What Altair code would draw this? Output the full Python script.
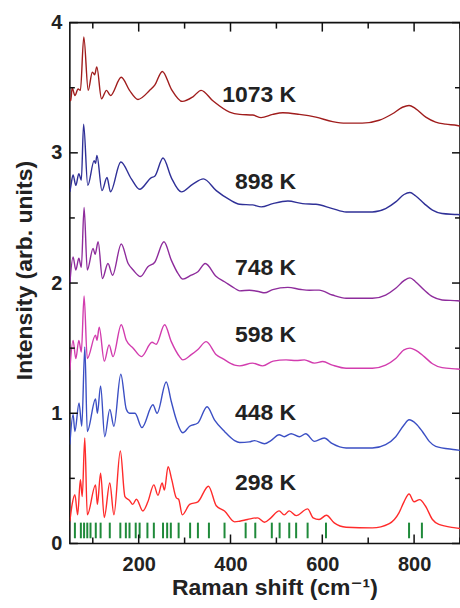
import altair as alt
import pandas as pd

temps = ["298 K", "448 K", "598 K", "748 K", "898 K", "1073 K"]
colors = ["#ff2b2b", "#3b4fc4", "#d23cae", "#8e2c9c", "#2f3097", "#a01d1d"]

x_298 = [50, 55, 61, 67, 73, 77, 82.5, 88, 106, 110, 117, 125, 137, 146, 160, 170, 180, 187, 195, 209,
         220, 233, 242, 251, 256, 264, 272, 282, 287, 295, 311, 329, 352, 369, 387, 409, 420, 437, 459, 474,
         488, 506, 517, 528, 543, 568, 580, 593, 609, 626, 652, 709, 746, 767, 778, 789, 800, 812, 825, 840,
         854, 890, 900]
y_298 = [0.17, 0.30, 0.375, 0.22, 0.49, 0.36, 0.81, 0.22, 0.45, 0.30, 0.54, 0.20, 0.465, 0.22, 0.71, 0.36, 0.33, 0.30, 0.34, 0.25,
         0.32, 0.45, 0.37, 0.465, 0.41, 0.59, 0.49, 0.35, 0.34, 0.22, 0.30, 0.32, 0.44, 0.29, 0.25, 0.166, 0.171, 0.184, 0.197, 0.163,
         0.197, 0.25, 0.22, 0.25, 0.214, 0.266, 0.197, 0.184, 0.217, 0.158, 0.125, 0.12, 0.153, 0.235, 0.32, 0.38, 0.32, 0.337, 0.286, 0.184,
         0.146, 0.12, 0.115]

x_448 = [50, 57, 61, 70, 76, 82.6, 88, 106, 110, 117, 126, 137, 146, 161, 173, 180, 192, 207, 231, 240,
         260, 271, 282, 296, 311, 329, 349, 365, 387, 409, 420, 441, 452, 474, 488, 506, 517, 532, 550, 564,
         583, 604, 622, 652, 709, 738, 760, 778, 789, 804, 818, 833, 847, 890, 900]
y_448 = [0.76, 0.99, 0.86, 1.08, 0.90, 1.51, 0.86, 1.11, 1.0, 1.21, 0.82, 1.03, 0.90, 1.30, 1.03, 1.00, 1.00, 0.89, 1.065, 1.0,
         1.24, 1.09, 0.95, 0.85, 0.90, 0.925, 1.05, 0.95, 0.86, 0.79, 0.776, 0.78, 0.79, 0.766, 0.79, 0.835, 0.82, 0.843, 0.82, 0.843,
         0.784, 0.81, 0.766, 0.733, 0.733, 0.759, 0.82, 0.91, 0.95, 0.92, 0.86, 0.784, 0.746, 0.72, 0.715]

x_598 = [50, 57, 63, 69.6, 75, 81, 88, 106, 109, 114, 125, 135.5, 144, 162, 173, 188, 206, 229, 238, 256.5,
         271, 289, 296, 314.5, 329, 347, 369, 383, 409, 420, 448, 470, 493, 521, 543, 561, 583, 601, 622, 652,
         709, 738, 760, 778, 791, 803, 822, 840, 861, 894, 900]
y_598 = [1.33, 1.56, 1.42, 1.56, 1.47, 1.90, 1.42, 1.60, 1.56, 1.66, 1.40, 1.525, 1.435, 1.68, 1.56, 1.50, 1.435, 1.545, 1.53, 1.68,
         1.55, 1.435, 1.41, 1.45, 1.49, 1.55, 1.45, 1.42, 1.37, 1.364, 1.385, 1.364, 1.40, 1.41, 1.405, 1.41, 1.385, 1.397, 1.37, 1.346,
         1.346, 1.37, 1.42, 1.487, 1.50, 1.485, 1.435, 1.38, 1.35, 1.34, 1.338]

x_748 = [50, 57, 63, 69.6, 75, 81, 88, 100.7, 105, 111.6, 121, 133, 143, 162, 177, 188, 204, 220, 235, 255,
         271, 285.5, 296, 314.5, 329, 345, 369, 387, 409, 420, 441, 463, 474, 492, 525, 554, 572, 593, 622, 652,
         709, 738, 760, 778, 791, 803, 822, 840, 861, 894, 900]
y_748 = [2.0, 2.20, 2.10, 2.19, 2.12, 2.58, 2.10, 2.266, 2.22, 2.317, 2.035, 2.15, 2.06, 2.30, 2.15, 2.10, 2.05, 2.125, 2.16, 2.317,
         2.176, 2.074, 2.03, 2.06, 2.087, 2.15, 2.05, 2.01, 1.96, 1.94, 1.945, 1.933, 1.925, 1.95, 1.967, 1.95, 1.945, 1.946, 1.908, 1.883,
         1.883, 1.908, 1.96, 2.018, 2.04, 2.01, 1.946, 1.895, 1.87, 1.864, 1.862]

x_898 = [50, 52, 57, 63, 69.6, 75, 80, 89, 103, 106, 109, 120, 131, 138.5, 161, 184, 202, 227.6, 235, 253,
         271, 293, 318, 341, 369, 398, 420, 448, 467, 492, 525, 557, 586, 622, 652, 709, 738, 760, 778, 791,
         803, 822, 840, 861, 894, 900]
y_898 = [2.70, 2.74, 2.83, 2.75, 2.84, 2.79, 3.22, 2.75, 2.94, 2.92, 2.98, 2.71, 2.81, 2.70, 2.93, 2.80, 2.72, 2.81, 2.82, 2.96,
         2.81, 2.70, 2.76, 2.80, 2.71, 2.64, 2.605, 2.60, 2.585, 2.61, 2.63, 2.61, 2.605, 2.572, 2.546, 2.546, 2.572, 2.623, 2.68, 2.695,
         2.67, 2.61, 2.56, 2.534, 2.526, 2.524]

x_1073 = [50, 52, 55, 61, 68, 73, 80.4, 90, 99, 104, 108.7, 119, 129.8, 138.5, 162, 180, 198.5, 224, 235, 251.5,
          271, 295, 318, 336, 361.5, 398, 420, 448.5, 466.6, 492, 514, 550, 586, 622.5, 651.5, 687, 724, 753, 774.6, 789,
          803, 825.5, 847, 869, 894, 900]
y_1073 = [3.42, 3.40, 3.50, 3.44, 3.49, 3.48, 3.89, 3.48, 3.62, 3.60, 3.66, 3.415, 3.48, 3.44, 3.58, 3.48, 3.41, 3.48, 3.52, 3.625,
          3.49, 3.395, 3.43, 3.48, 3.40, 3.313, 3.295, 3.29, 3.27, 3.295, 3.308, 3.295, 3.274, 3.24, 3.228, 3.228, 3.25, 3.30, 3.35, 3.364,
          3.34, 3.274, 3.236, 3.22, 3.21, 3.205]

# reference peak positions (green bars)
bar_positions = [61, 74, 81, 88, 95, 106.5, 117, 137, 160, 172, 180, 193.5, 202, 219, 233, 253, 262, 270, 287,
                 312, 329, 353, 387, 433, 454, 490, 507, 528, 543, 568, 608, 789, 817]
bar_low = 0.04
bar_high = 0.16

label_text = temps
label_x = [543, 543, 543, 543, 543, 543]
label_y = [0.414, 0.95, 1.55, 2.061, 2.725, 3.39]

x_ticks_major = [200, 400, 600, 800]
x_ticks_minor = [100, 300, 500, 700, 900]
y_ticks_major = [0, 1, 2, 3, 4]
y_ticks_minor = [0.5, 1.5, 2.5, 3.5]

W, H = 391, 522
FONT = "Liberation Sans, Arial, DejaVu Sans"

xs_all = [x_298, x_448, x_598, x_748, x_898, x_1073]
ys_all = [y_298, y_448, y_598, y_748, y_898, y_1073]
rows = []
for t, xs, ys in zip(temps, xs_all, ys_all):
    assert len(xs) == len(ys), t
    for a, b in zip(xs, ys):
        rows.append({"shift": a, "intensity": b, "T": t})
df = pd.DataFrame(rows)

x_scale = alt.Scale(domain=[50, 900], nice=False, zero=False)
y_scale = alt.Scale(domain=[0, 4], nice=False, zero=False)

x_axis = alt.Axis(values=x_ticks_major, format="d", title="Raman shift (cm\u207b\u00b9)", ticks=False, domain=False, grid=False,
                  labelFont=FONT, labelFontSize=20, labelFontWeight="bold", labelColor="#222222", labelPadding=11,
                  titleFont=FONT, titleFontSize=23, titleFontWeight="bold", titleColor="#222222",
                  titleX=205, titleY=51, titleAlign="center", titleBaseline="alphabetic")
y_axis = alt.Axis(values=y_ticks_major, format="d", title="Intensity (arb. units)", ticks=False, domain=False, grid=False,
                  labelFont=FONT, labelFontSize=20, labelFontWeight="bold", labelColor="#222222", labelPadding=8,
                  titleFont=FONT, titleFontSize=23, titleFontWeight="bold", titleColor="#222222",
                  titleX=-45, titleY=248, titleAlign="center", titleBaseline="middle", titleAngle=270)

lines = alt.Chart(df).mark_line(strokeWidth=1.4, interpolate="monotone", clip=True).encode(
    x=alt.X("shift:Q", scale=x_scale, axis=x_axis),
    y=alt.Y("intensity:Q", scale=y_scale, axis=y_axis),
    color=alt.Color("T:N", scale=alt.Scale(domain=temps, range=colors), legend=None),
    detail="T:N",
)

bars = alt.Chart(pd.DataFrame({"p": bar_positions, "lo": bar_low, "hi": bar_high})).mark_rule(
    color="#1f8a3a", strokeWidth=2).encode(
    x=alt.X("p:Q", scale=x_scale), y=alt.Y("lo:Q", scale=y_scale), y2="hi:Q")

labels = alt.Chart(pd.DataFrame({"t": label_text, "x": label_x, "y": label_y})).mark_text(
    font=FONT, fontSize=23, fontWeight="bold", color="#222222", align="right", baseline="alphabetic").encode(
    x=alt.X("x:Q", scale=x_scale), y=alt.Y("y:Q", scale=y_scale), text="t:N")

tick_color = "#111111"

def xticks(vals, length):
    d = pd.DataFrame({"v": vals})
    bottom = alt.Chart(d).mark_rule(color=tick_color, strokeWidth=1.5).encode(
        x=alt.X("v:Q", scale=x_scale), y=alt.value(H), y2=alt.value(H - length))
    top = alt.Chart(d).mark_rule(color=tick_color, strokeWidth=1.5).encode(
        x=alt.X("v:Q", scale=x_scale), y=alt.value(0), y2=alt.value(length))
    return [bottom, top]

def yticks(vals, length):
    d = pd.DataFrame({"v": vals})
    left = alt.Chart(d).mark_rule(color=tick_color, strokeWidth=1.5).encode(
        y=alt.Y("v:Q", scale=y_scale), x=alt.value(0), x2=alt.value(length))
    right = alt.Chart(d).mark_rule(color=tick_color, strokeWidth=1.5).encode(
        y=alt.Y("v:Q", scale=y_scale), x=alt.value(W), x2=alt.value(W - length))
    return [left, right]

layers = [lines, bars, labels] + xticks(x_ticks_major, 9) + xticks(x_ticks_minor, 6) \
    + yticks(y_ticks_major, 8) + yticks(y_ticks_minor, 5)

chart = alt.layer(*layers).properties(
    width=W, height=H,
    autosize=alt.AutoSizeParams(type="none"),
    padding={"left": 70, "top": 22, "right": 0, "bottom": 64},
    background="white",
).configure_view(stroke="#111111", strokeWidth=1.6)

chart.save("out.html", embed_options={"renderer": "svg", "actions": False})
